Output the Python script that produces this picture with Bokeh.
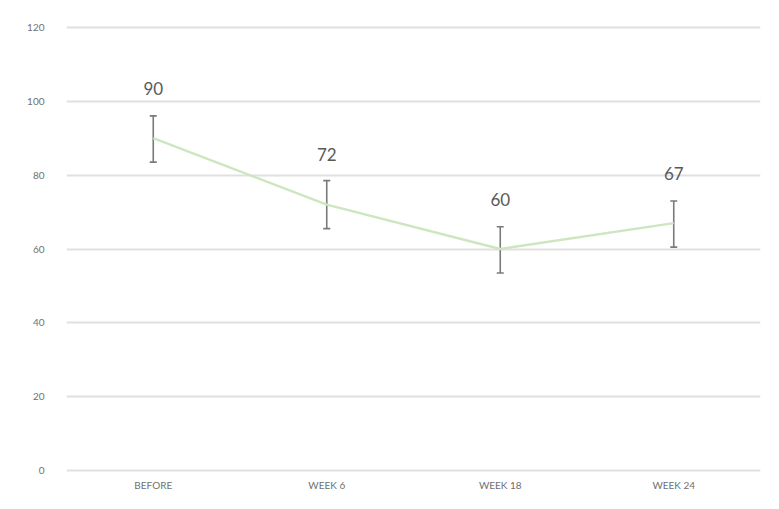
from bokeh.plotting import figure
from bokeh.models import ColumnDataSource, Whisker, TeeHead, Range1d, FactorRange, FixedTicker
from bokeh.core.properties import value
from bokeh.embed import file_html
from bokeh.resources import INLINE

categories = ["BEFORE", "WEEK 6", "WEEK 18", "WEEK 24"]
means = [90, 72, 60, 67]
err_lower = [83.5, 65.5, 53.5, 60.5]
err_upper = [96, 78.5, 66, 73]
value_labels = ["90", "72", "60", "67"]
y_ticks = [0, 20, 40, 60, 80, 100, 120]

src = ColumnDataSource(dict(x=categories, y=means, lo=err_lower, hi=err_upper, lab=value_labels))

p = figure(width=763, height=493, x_range=FactorRange(*categories, range_padding=0),
           y_range=Range1d(-1, 121), output_backend="svg", toolbar_location=None,
           min_border_left=66, min_border_right=3, min_border_top=23, min_border_bottom=17)
p.x_range.range_padding = 0
p.outline_line_color = None
p.background_fill_color = "white"
p.border_fill_color = "white"

p.xgrid.grid_line_color = None
p.ygrid.grid_line_color = "#e0e0e0"
p.ygrid.grid_line_width = 1.8
p.yaxis.ticker = FixedTicker(ticks=y_ticks)

for ax in (p.xaxis[0], p.yaxis[0]):
    ax.axis_line_color = None
    ax.major_tick_line_color = None
    ax.minor_tick_line_color = None
    ax.major_tick_out = 0
    ax.major_tick_in = 0
    ax.minor_tick_out = 0
    ax.major_label_text_color = "#707070"
    ax.major_label_text_font = "Lato"
    ax.major_label_text_font_size = "10px"
p.yaxis.major_label_standoff = 22
p.xaxis.major_label_standoff = 4

p.line("x", "y", source=src, line_color="#cde6c0", line_width=2.5)

w = Whisker(base="x", lower="lo", upper="hi", source=src, line_color="#7a7a7a", line_width=1.6,
            upper_head=TeeHead(size=7, line_color="#7a7a7a", line_width=1.6),
            lower_head=TeeHead(size=7, line_color="#7a7a7a", line_width=1.6))
p.add_layout(w)

p.text("x", "y", text="lab", source=src, y_offset=-50, text_align="center", text_baseline="middle",
       text_color="#595959", text_font=value("Lato"), text_font_size="17px")

open("out.html", "w").write(file_html(p, INLINE))
